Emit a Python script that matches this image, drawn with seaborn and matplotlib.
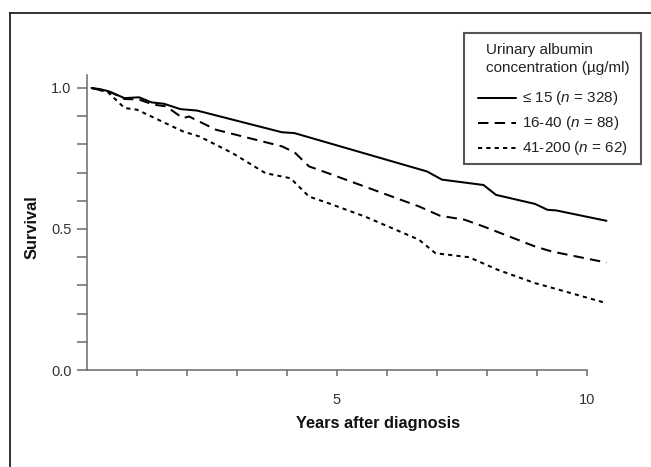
import matplotlib
matplotlib.use("Agg")
import matplotlib.pyplot as plt
import matplotlib.patches as mpatches
from matplotlib.lines import Line2D
import numpy as np
import pandas as pd
import seaborn as sns

# ---- data ----
low_years = [0.09, 0.26, 0.44, 0.75, 1.04, 1.29, 1.54, 1.87, 2.20, 3.90, 4.15, 6.80, 7.10, 7.93, 8.18, 8.96, 9.21, 9.38, 10.39]
low_surv = [1.000, 0.996, 0.988, 0.964, 0.967, 0.949, 0.944, 0.925, 0.920, 0.843, 0.840, 0.704, 0.675, 0.656, 0.621, 0.589, 0.568, 0.566, 0.529]

mid_years = [0.09, 0.51, 0.75, 1.04, 1.33, 1.58, 1.92, 2.04, 2.58, 3.90, 4.15, 4.44, 4.82, 6.64, 7.06, 7.55, 7.93, 8.96, 9.30, 10.39]
mid_surv = [1.000, 0.982, 0.961, 0.959, 0.941, 0.935, 0.893, 0.899, 0.852, 0.793, 0.772, 0.722, 0.698, 0.580, 0.547, 0.533, 0.509, 0.438, 0.420, 0.381]

high_years = [0.09, 0.42, 0.75, 1.00, 1.92, 2.25, 2.91, 3.57, 4.07, 4.44, 4.82, 5.56, 6.64, 6.97, 7.64, 8.22, 8.96, 9.21, 10.39]
high_surv = [1.000, 0.985, 0.929, 0.923, 0.846, 0.828, 0.769, 0.698, 0.680, 0.615, 0.592, 0.544, 0.462, 0.414, 0.400, 0.355, 0.308, 0.296, 0.237]

group_labels = ["\u2264 15 ($n$ = 328)", "16-40 ($n$ = 88)", "41-200 ($n$ = 62)"]
legend_title = ["Urinary albumin", "concentration (\u00b5g/ml)"]
x_ticks = [1, 2, 3, 4, 5, 6, 7, 8, 9, 10]
x_tick_labels = ["", "", "", "", "5", "", "", "", "", "10"]
y_ticks = [0.0, 0.1, 0.2, 0.3, 0.4, 0.5, 0.6, 0.7, 0.8, 0.9, 1.0]
y_tick_labels = ["0.0", "", "", "", "", "0.5", "", "", "", "", "1.0"]

df = pd.concat([
    pd.DataFrame({"Years": low_years, "Survival": low_surv, "group": group_labels[0]}),
    pd.DataFrame({"Years": mid_years, "Survival": mid_surv, "group": group_labels[1]}),
    pd.DataFrame({"Years": high_years, "Survival": high_surv, "group": group_labels[2]}),
], ignore_index=True)

sns.set_style("white")
plt.rcParams["font.family"] = ["Liberation Sans", "DejaVu Sans"]
plt.rcParams["mathtext.fontset"] = "custom"
plt.rcParams["mathtext.it"] = "Liberation Sans:italic"
plt.rcParams["mathtext.rm"] = "Liberation Sans"
plt.rcParams["lines.scale_dashes"] = False

W, H = 651, 467
fig = plt.figure(figsize=(W / 100, H / 100), dpi=100)
ax_left, ax_right, ax_bottom, ax_top = 87, 609.5, 370, 75.3
ax = fig.add_axes([ax_left / W, 1 - ax_bottom / H, (ax_right - ax_left) / W, (ax_bottom - ax_top) / H])


def fx(px):
    return px / W


def fy(py):
    return 1 - py / H


dash_map = {group_labels[0]: "", group_labels[1]: (7.5, 4.5), group_labels[2]: (3.0, 3.0)}
line_w = 1.45
sns.lineplot(data=df, x="Years", y="Survival", hue="group", style="group",
             palette=["black"] * 3, dashes=dash_map, linewidth=line_w,
             estimator=None, sort=False, legend=False, ax=ax)

ax.set_xlim(0, 10.45)
ax.set_ylim(0, 1.045)
for s in ["top", "right"]:
    ax.spines[s].set_visible(False)
for s in ["left", "bottom"]:
    ax.spines[s].set_color("#6a6a6a")
    ax.spines[s].set_linewidth(1.1)
ax.spines["bottom"].set_bounds(0, 10)

ax.set_xticks(x_ticks)
ax.set_xticklabels(x_tick_labels)
ax.set_yticks(y_ticks)
ax.set_yticklabels(y_tick_labels)
ax.tick_params(axis="x", direction="out", length=4.5, width=1.1, color="#6a6a6a",
               pad=12, labelsize=10.5, labelcolor="#333333", bottom=True)
ax.tick_params(axis="y", direction="out", length=7.2, width=1.1, color="#6a6a6a",
               pad=4, labelsize=10.5, labelcolor="#333333", left=True)

ax.set_xlabel("Years after diagnosis", fontsize=11.8, fontweight="bold", color="#111111")
ax.set_ylabel("Survival", fontsize=11.8, fontweight="bold", color="#111111")
ax.xaxis.set_label_coords((378 - ax_left) / (ax_right - ax_left), (ax_bottom - 416) / (ax_bottom - ax_top))
ax.yaxis.set_label_coords((40 - ax_left) / (ax_right - ax_left), (ax_bottom - 227) / (ax_bottom - ax_top))

# ---- legend box drawn by hand to match the reference layout ----
fig.patches.append(mpatches.Rectangle((fx(464), fy(164)), fx(641) - fx(464), fy(33) - fy(164),
                                      transform=fig.transFigure, fill=True, facecolor="white",
                                      edgecolor="#555555", linewidth=1.5, zorder=5))
leg_fs = 11
fig.text(fx(486), fy(50), legend_title[0], fontsize=leg_fs, color="#222222", va="center", ha="left", zorder=6)
fig.text(fx(486), fy(68), legend_title[1], fontsize=leg_fs, color="#222222", va="center", ha="left", zorder=6)
row_y = [98, 123, 148]
for lab, yy in zip(group_labels, row_y):
    d = dash_map[lab]
    ln = Line2D([fx(478), fx(516)], [fy(yy), fy(yy)], transform=fig.transFigure,
                color="black", linewidth=line_w, zorder=6)
    if d:
        ln.set_dashes(d)
    fig.lines.append(ln)
    fig.text(fx(522), fy(yy), lab, fontsize=leg_fs, color="#222222", va="center", ha="left", zorder=6)

# outer frame of the figure panel: only its left and top edges are in view
fig.lines.append(Line2D([fx(10), fx(10)], [0, fy(12.7)], transform=fig.transFigure,
                        color="#222222", linewidth=1.3, solid_capstyle="projecting"))
fig.lines.append(Line2D([fx(10), 1], [fy(12.7), fy(12.7)], transform=fig.transFigure,
                        color="#222222", linewidth=1.3, solid_capstyle="projecting"))

fig.savefig("out.png", dpi=100)
